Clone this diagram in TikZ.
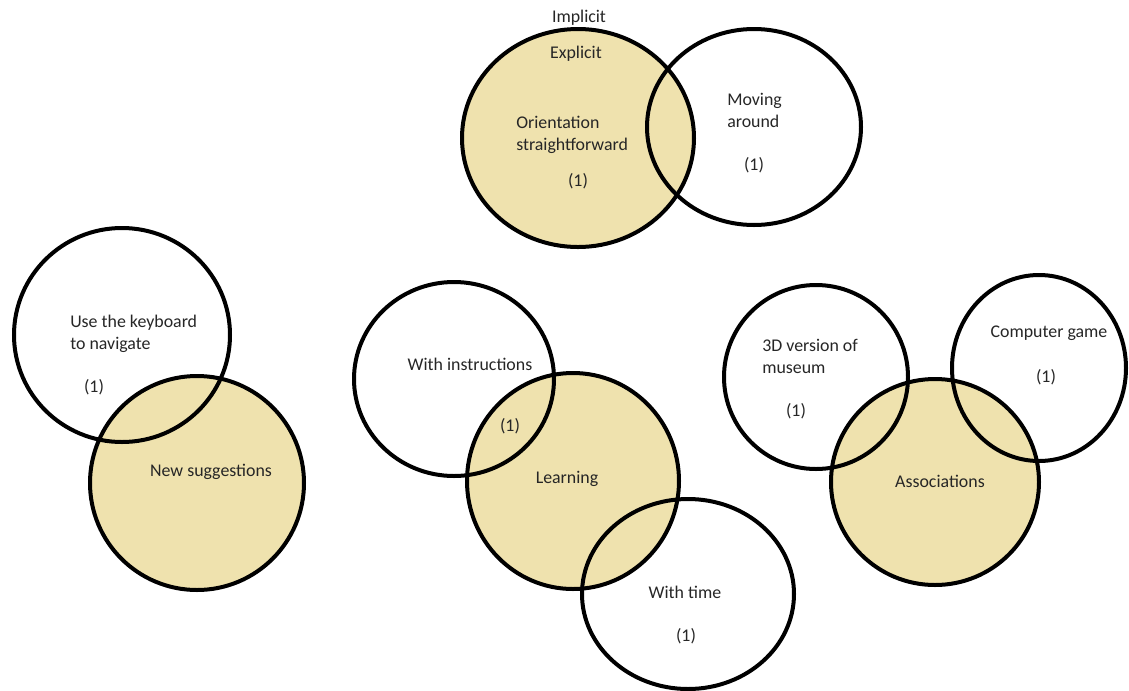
\documentclass[tikz,border=0pt]{standalone}
\usepackage{fontspec}
\setmainfont{Carlito}
\definecolor{sand}{HTML}{EFE2AE}
\definecolor{ink}{HTML}{262626}

\begin{document}
\begin{tikzpicture}[
  x=0.75pt, y=-0.75pt,
  ring/.style={draw, line width=3pt},
  lbl/.style={font=\fontsize{13.4}{16.5}\selectfont, text=ink, inner sep=0pt, align=left}
]
  \useasboundingbox (0,0) rectangle (1129,690);

  % filled sets
  \fill[sand] (578,138) ellipse [x radius=116, y radius=109];
  \fill[sand] (197,483) ellipse [x radius=107, y radius=107];
  \fill[sand] (573,481) ellipse [x radius=106, y radius=108];
  \fill[sand] (935,482) ellipse [x radius=104, y radius=103];

  % outlines
  \draw[ring] (578,138) ellipse [x radius=116, y radius=109];
  \draw[ring] (754,127) ellipse [x radius=107, y radius=98];
  \draw[ring] (122,335) ellipse [x radius=108, y radius=107];
  \draw[ring] (197,483) ellipse [x radius=107, y radius=107];
  \draw[ring] (454,379) ellipse [x radius=100, y radius=97];
  \draw[ring] (573,481) ellipse [x radius=106, y radius=108];
  \draw[ring] (688,594) ellipse [x radius=106, y radius=95];
  \draw[ring] (816,377) ellipse [x radius=92, y radius=92];
  \draw[ring] (1039,368) ellipse [x radius=87, y radius=93];
  \draw[ring] (935,482) ellipse [x radius=104, y radius=103];

  % labels
  \node[lbl] (implicit) at (579,18) {Implicit};
  \node[lbl] (explicit) at (576,54) {Explicit};
  \node[lbl, anchor=west] (orient) at (516,135) {Orientation\\straightforward};
  \node[lbl] (orientn) at (578,181) {(1)};
  \node[lbl, anchor=west] (moving) at (727,110) {Moving\\around};
  \node[lbl] (movingn) at (754,165) {(1)};
  \node[lbl, anchor=west] (keyb) at (70,334) {Use the keyboard\\to navigate};
  \node[lbl] (keybn) at (94,387) {(1)};
  \node[lbl] (newsug) at (211,472) {New suggestions};
  \node[lbl] (instr) at (470,364) {With instructions};
  \node[lbl] (instrn) at (510,426) {(1)};
  \node[lbl] (learn) at (567,479) {Learning};
  \node[lbl] (wtime) at (685,592) {With time};
  \node[lbl] (wtimen) at (686,636) {(1)};
  \node[lbl, anchor=west] (threed) at (762,356) {3D version of\\museum};
  \node[lbl] (threedn) at (796,411) {(1)};
  \node[lbl] (game) at (1049,333) {Computer game};
  \node[lbl] (gamen) at (1046,377) {(1)};
  \node[lbl] (assoc) at (940,481) {Associations};
\end{tikzpicture}
\end{document}
